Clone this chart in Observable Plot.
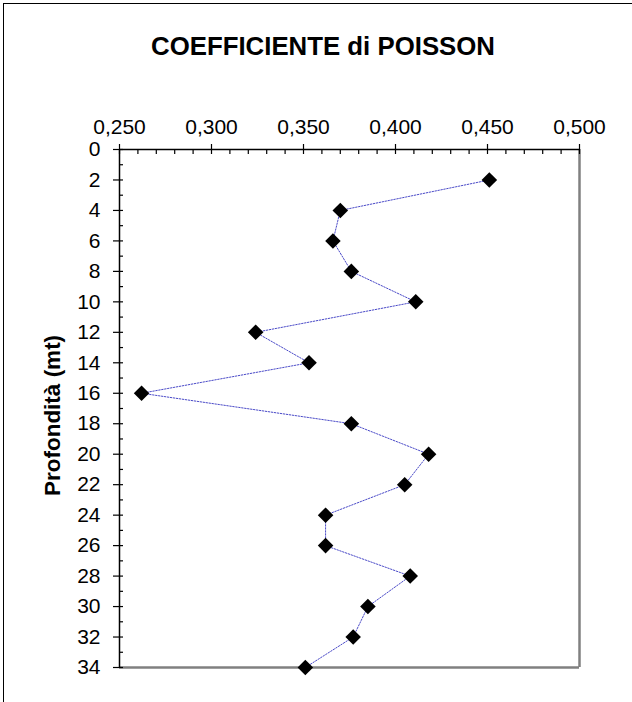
<!DOCTYPE html>
<html>
<head>
<meta charset="utf-8">
<script src="https://cdn.jsdelivr.net/npm/d3@7"></script>
<script src="https://cdn.jsdelivr.net/npm/@observablehq/plot@0.6"></script>
<style>
  html, body { margin: 0; padding: 0; background: #fff; overflow: hidden; width: 632px; height: 702px; }
  #frame { position: absolute; left: 3px; top: 3px; width: 700px; height: 800px; border-left: 1px solid #000; border-top: 1px solid #000; }
  #title { position: absolute; left: 0; top: 34px; width: 646px; text-align: center; font-family: "Liberation Sans", Arial, sans-serif; font-weight: bold; font-size: 25.8px; line-height: 25.8px; color: #000; }
  #chart { position: absolute; left: 0; top: 95px; }
</style>
</head>
<body>
<div id="frame"></div>
<div id="title"></div>
<div id="chart"></div>
<script>
const titleText = "COEFFICIENTE di POISSON";
const yLabel = "Profondità (mt)";
const depth = [2, 4, 6, 8, 10, 12, 14, 16, 18, 20, 22, 24, 26, 28, 30, 32, 34];
const poisson = [0.451, 0.370, 0.366, 0.376, 0.411, 0.324, 0.353, 0.262, 0.376, 0.418, 0.405, 0.362, 0.362, 0.408, 0.385, 0.377, 0.351];
const xTicks = [0.25, 0.30, 0.35, 0.40, 0.45, 0.50];
const yTicks = [0, 2, 4, 6, 8, 10, 12, 14, 16, 18, 20, 22, 24, 26, 28, 30, 32, 34];
const xMinor = d3.range(0, 26).map(i => 0.25 + i * 0.01);
const yMinor = d3.range(0, 35);

const data = depth.map((d, i) => ({depth: d, value: poisson[i]}));
const fmt = d => d3.format(".3f")(d).replace(".", ",");
const font = "'Liberation Sans', Arial, sans-serif";

document.getElementById("title").textContent = titleText;

const chart = Plot.plot({
  width: 632,
  height: 607,
  marginLeft: 119,
  marginRight: 53,
  marginTop: 54,
  marginBottom: 35,
  style: {fontFamily: font, fontSize: "21px", color: "#000", background: "transparent", overflow: "visible"},
  x: {domain: [0.25, 0.5]},
  y: {domain: [0, 34], reverse: true},
  marks: [
    Plot.ruleX([0.5], {stroke: "#808080", strokeWidth: 2.5}),
    Plot.ruleY([34], {stroke: "#808080", strokeWidth: 2.5}),
    Plot.axisX({anchor: "top", ticks: xTicks, tickSize: 6, tickPadding: 10, tickFormat: fmt, label: null, strokeWidth: 1.2}),
    Plot.axisX({anchor: "top", ticks: xMinor, tickSize: -4, tickFormat: () => "", label: null, strokeWidth: 1.2}),
    Plot.axisY({anchor: "left", ticks: yTicks, tickSize: 6, tickPadding: 13, tickFormat: d => String(d), label: null, strokeWidth: 1.2}),
    Plot.axisY({anchor: "left", ticks: yMinor, tickSize: -4, tickFormat: () => "", label: null, strokeWidth: 1.2}),
    Plot.ruleY([0], {stroke: "#000", strokeWidth: 1.5}),
    Plot.ruleX([0.25], {stroke: "#000", strokeWidth: 1.5}),
    Plot.line(data, {x: "value", y: "depth", stroke: "#4a4ac8", strokeWidth: 1, strokeDasharray: "1.5,1.5"}),
    Plot.dot(data, {x: "value", y: "depth", symbol: "diamond2", r: 7, fill: "#000", stroke: null}),
    Plot.text([yLabel], {text: d => d, frameAnchor: "left", textAnchor: "middle", rotate: -90, dx: -67, dy: 7, fontWeight: "bold", fontSize: 22.5, fill: "#000"})
  ]
});
document.getElementById("chart").appendChild(chart);
</script>
</body>
</html>
